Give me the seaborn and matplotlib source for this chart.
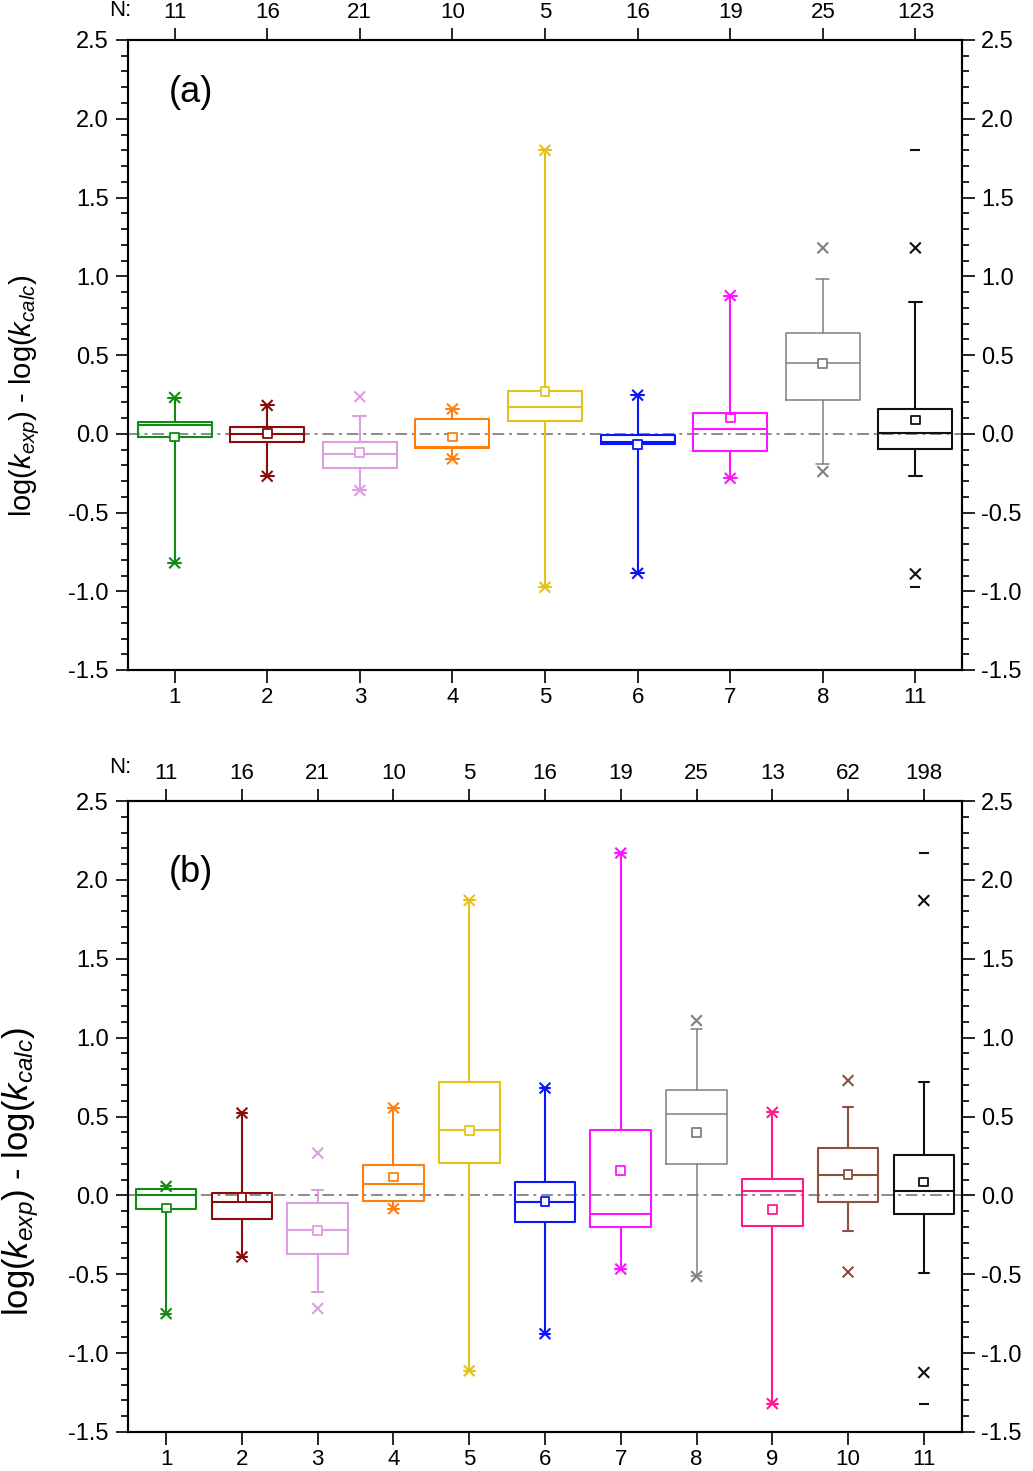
import numpy as np
import pandas as pd
import matplotlib
matplotlib.use('Agg')
import matplotlib.pyplot as plt
import seaborn as sns
from matplotlib.ticker import MultipleLocator, FormatStrFormatter

# ---- panel (a) ----
cats_a = ['1', '2', '3', '4', '5', '6', '7', '8', '11']
n_a = [11, 16, 21, 10, 5, 16, 19, 25, 123]
q1_a = [-0.02, -0.05, -0.22, -0.093, 0.083, -0.067, -0.107, 0.214, -0.097]
med_a = [0.055, -0.004, -0.13, -0.082, 0.17, -0.05, 0.03, 0.447, 0.007]
q3_a = [0.077, 0.041, -0.05, 0.094, 0.27, -0.008, 0.134, 0.642, 0.16]
mean_a = [-0.02, 0.0, -0.12, -0.02, 0.27, -0.07, 0.10, 0.447, 0.087]
wlo_a = [-0.82, -0.27, -0.36, -0.16, -0.975, -0.886, -0.283, -0.19, -0.27]
whi_a = [0.23, 0.18, 0.11, 0.157, 1.80, 0.245, 0.877, 0.98, 0.835]
p1_a = [-0.82, -0.27, -0.36, -0.16, -0.975, -0.886, -0.283, -0.24, -0.89]
p99_a = [0.23, 0.18, 0.235, 0.157, 1.80, 0.245, 0.877, 1.18, 1.18]
min_a = [np.nan] * 8 + [-0.975]
max_a = [np.nan] * 8 + [1.80]

# ---- panel (b) ----
cats_b = ['1', '2', '3', '4', '5', '6', '7', '8', '9', '10', '11']
n_b = [11, 16, 21, 10, 5, 16, 19, 25, 13, 62, 198]
q1_b = [-0.085, -0.15, -0.374, -0.036, 0.205, -0.167, -0.199, 0.201, -0.195, -0.04, -0.12]
med_b = [0.0, -0.044, -0.218, 0.072, 0.412, -0.042, -0.12, 0.516, 0.025, 0.131, 0.025]
q3_b = [0.04, 0.015, -0.049, 0.192, 0.718, 0.085, 0.414, 0.665, 0.106, 0.30, 0.256]
mean_b = [-0.08, -0.013, -0.224, 0.116, 0.413, -0.038, 0.159, 0.397, -0.089, 0.131, 0.085]
wlo_b = [-0.75, -0.39, -0.615, -0.085, -1.112, -0.877, -0.467, -0.514, -1.32, -0.228, -0.49]
whi_b = [0.057, 0.522, 0.032, 0.554, 1.87, 0.68, 2.17, 1.056, 0.526, 0.56, 0.718]
p1_b = [-0.75, -0.39, -0.717, -0.085, -1.112, -0.877, -0.467, -0.514, -1.32, -0.486, -1.123]
p99_b = [0.057, 0.522, 0.268, 0.554, 1.87, 0.68, 2.17, 1.108, 0.526, 0.728, 1.869]
min_b = [np.nan] * 10 + [-1.32]
max_b = [np.nan] * 10 + [2.17]

col = {'1': '#138a13', '2': '#8b0a0a', '3': '#dc9ee0', '4': '#ff7f0e', '5': '#e3c21c',
       '6': '#0a14ff', '7': '#ff14ff', '8': '#808080', '9': '#ff1a8c', '10': '#8b5040',
       '11': '#111111'}

sns.set_style('ticks')
plt.rcParams['font.family'] = ['Liberation Sans', 'DejaVu Sans']
plt.rcParams['mathtext.fontset'] = 'custom'
plt.rcParams['mathtext.rm'] = 'Liberation Sans'
plt.rcParams['mathtext.it'] = 'Liberation Sans:italic'
plt.rcParams['axes.edgecolor'] = 'black'
plt.rcParams['xtick.color'] = 'black'
plt.rcParams['ytick.color'] = 'black'
plt.rcParams['text.color'] = 'black'

W, H = 1033, 1471
TS = 17
fig = plt.figure(figsize=(W / 100, H / 100), dpi=100)


def panel(rect, cats, n, q1, med, q3, mean, wlo, whi, p1, p99, vmin, vmax, tag, tagy):
    ax = fig.add_axes(rect)
    pos = np.arange(1, len(cats) + 1)
    ax.axhline(0, color='#8a8a8a', lw=1.4, ls=(0, (6, 2.5, 1.5, 2.5)), zorder=1)
    for i, c in enumerate(cats):
        lw = 1.1 if c == '8' else 1.5
        st = [dict(med=med[i], q1=q1[i], q3=q3[i], whislo=wlo[i], whishi=whi[i], fliers=[])]
        props = dict(color=col[c], lw=lw)
        ax.bxp(st, positions=[pos[i]], widths=0.8, capwidths=0.14, showfliers=False,
               boxprops=props, whiskerprops=props, capprops=props, medianprops=props,
               manage_ticks=False)
    df = pd.DataFrame({'pos': pos, 'grp': cats, 'mean': mean, 'p1': p1, 'p99': p99,
                       'vmin': vmin, 'vmax': vmax})
    pal = {c: col[c] for c in cats}
    for yv in ['p1', 'p99']:
        sns.scatterplot(data=df, x='pos', y=yv, hue='grp', palette=pal, marker='x', s=60,
                        linewidth=1.5, legend=False, ax=ax, zorder=4)
    sns.scatterplot(data=df, x='pos', y='mean', hue='grp', palette=pal, marker='s', s=40,
                    legend=False, ax=ax, zorder=5)
    pts = ax.collections[-1]
    pts.set_edgecolors(pts.get_facecolors())
    pts.set_facecolors('white')
    pts.set_linewidth(1.3)
    dm = df.dropna()
    for yv in ['vmin', 'vmax']:
        sns.scatterplot(data=dm, x='pos', y=yv, hue='grp', palette=pal, marker='_', s=60,
                        linewidth=1.5, legend=False, ax=ax, zorder=4)

    ax.set_xlim(0.5, len(cats) + 0.5)
    ax.set_ylim(-1.5, 2.5)
    ax.set_xticks(pos, cats)
    ax.set_xlabel('')
    ax.set_ylabel('')
    ax.yaxis.set_major_locator(MultipleLocator(0.5))
    ax.yaxis.set_minor_locator(MultipleLocator(0.1))
    ax.yaxis.set_major_formatter(FormatStrFormatter('%.1f'))
    ax.tick_params(axis='both', which='major', direction='out', length=9, width=1.2,
                   labelsize=TS, pad=5)
    ax.tick_params(axis='x', pad=3, labelsize=16)
    ax.tick_params(axis='y', which='minor', direction='out', length=5, width=1.2)
    ax.tick_params(axis='y', which='both', left=True, right=True, labelright=True)
    for s in ax.spines.values():
        s.set_linewidth(1.5)
    ax2 = ax.twiny()
    ax2.set_xlim(ax.get_xlim())
    ax2.set_xticks(pos, [str(v) for v in n])
    ax2.tick_params(axis='x', direction='out', length=9, width=1.2, labelsize=16, pad=3)
    for s in ax2.spines.values():
        s.set_linewidth(1.5)
    ax.text(0.075, tagy, tag, transform=ax.transAxes, fontsize=26, ha='center', va='center')
    return ax


left = 128.3 / W
width = 833.4 / W
panel([left, 1 - 670 / H, width, 630 / H], cats_a, n_a, q1_a, med_a, q3_a, mean_a,
      wlo_a, whi_a, p1_a, p99_a, min_a, max_a, '(a)', 0.916)
panel([left, 1 - 1432 / H, width, 631 / H], cats_b, n_b, q1_b, med_b, q3_b, mean_b,
      wlo_b, whi_b, p1_b, p99_b, min_b, max_b, '(b)', 0.886)

ylab = r'log($k_{exp}$) - log($k_{calc}$)'
fig.text(25 / W, 1 - 396 / H, ylab, rotation=90, ha='center', va='center', fontsize=21)
fig.text(21 / W, 1 - 1172 / H, ylab, rotation=90, ha='center', va='center', fontsize=25)
fig.text(120 / W, 1 - 11 / H, 'N:', ha='center', va='center', fontsize=16)
fig.text(120 / W, 1 - 767 / H, 'N:', ha='center', va='center', fontsize=16)

fig.savefig('out.png', dpi=100)
